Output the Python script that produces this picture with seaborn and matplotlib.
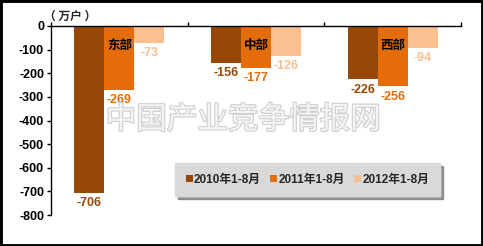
import matplotlib
matplotlib.use("Agg")
import matplotlib.pyplot as plt
from matplotlib.patches import Rectangle
import matplotlib.patheffects as pe
import seaborn as sns
import pandas as pd

regions = ["东部", "中部", "西部"]
series = ["2010年1-8月", "2011年1-8月", "2012年1-8月"]
v2010 = [-706, -156, -226]
v2011 = [-269, -177, -256]
v2012 = [-73, -126, -94]
yticks = [0, -100, -200, -300, -400, -500, -600, -700, -800]
colors = ["#974706", "#E46C0A", "#FAC090"]

rows = []
for s, vals in zip(series, [v2010, v2011, v2012]):
    for r, v in zip(regions, vals):
        rows.append({"region": r, "series": s, "value": v})
df = pd.DataFrame(rows)

sns.set_theme(style="white")
plt.rcParams['font.family'] = ['Liberation Sans', 'Noto Sans CJK SC', 'DejaVu Sans']

fig = plt.figure(figsize=(4.83, 2.46), dpi=100)
ax = fig.add_axes([51/483, 1-215/246, (461-51)/483, (215-26)/246])

fig.text(243/483, 1-120/246, "中国产业竞争情报网", ha='center', va='center',
         fontsize=22, color='#F4F4F4', family=['Noto Sans CJK SC'], zorder=0,
         path_effects=[pe.withStroke(linewidth=1.6, foreground='#CFCFCF')])
ax.patch.set_alpha(0)

sns.barplot(data=df, x="region", y="value", hue="series", palette=colors,
            width=0.66, saturation=1, ax=ax, legend=True, errorbar=None,
            linewidth=0)

ax.set_ylim(-800, 0)
ax.set_yticks(yticks)
ax.set_yticklabels([str(t) for t in yticks], fontsize=9, fontweight='bold', color='black')
ax.set_xlim(-0.5, 2.5)
ax.set_xticks([-0.5, 0.5, 1.5, 2.5])
ax.set_xticklabels([])
ax.xaxis.tick_top()
ax.tick_params(axis='x', direction='out', length=3, width=1, color='black', top=True, bottom=False)
ax.tick_params(axis='y', direction='out', length=3, width=1, color='black', left=True, pad=2)
ax.set_xlabel("")
ax.set_ylabel("")
for sp in ["bottom", "right"]:
    ax.spines[sp].set_visible(False)
for sp in ["top", "left"]:
    ax.spines[sp].set_color('black')
    ax.spines[sp].set_linewidth(1)

for cont, c in zip(ax.containers, colors):
    ax.bar_label(cont, labels=[f"{int(v)}" for v in cont.datavalues], padding=3,
                 color=c, fontsize=9, fontweight='bold')

orange = ax.containers[1]
for bar, r in zip(orange, regions):
    ax.annotate(r, xy=(bar.get_x() + bar.get_width()/2, 0), xytext=(0, -14),
                textcoords='offset points', ha='center', va='center',
                fontsize=9, fontweight='bold', color='black',
                family=['Noto Sans CJK SC'])

leg = ax.legend(loc='center', bbox_to_anchor=((180+435)/2/483, 1-179.5/246),
                bbox_transform=fig.transFigure, ncol=3, frameon=True,
                prop={'family': ['Liberation Sans', 'Noto Sans CJK SC'], 'weight': 'bold', 'size': 8.5},
                handlelength=0.6, handleheight=0.6, handletextpad=0.1, columnspacing=0.8,
                borderpad=0.9, shadow=True, fancybox=False)
leg.get_frame().set_facecolor('#D9D9D9')
leg.get_frame().set_edgecolor('#D9D9D9')

fig.text(70/483, 1-16/246, "（ 万户 ）", ha='center', va='center', fontsize=8.5,
         fontweight='bold', family=['Noto Sans CJK SC'])

fig.patches.append(Rectangle((0, 0), 1, 1, transform=fig.transFigure, fill=False,
                             edgecolor='black', linewidth=3.5))

fig.savefig("out.png", dpi=100)
